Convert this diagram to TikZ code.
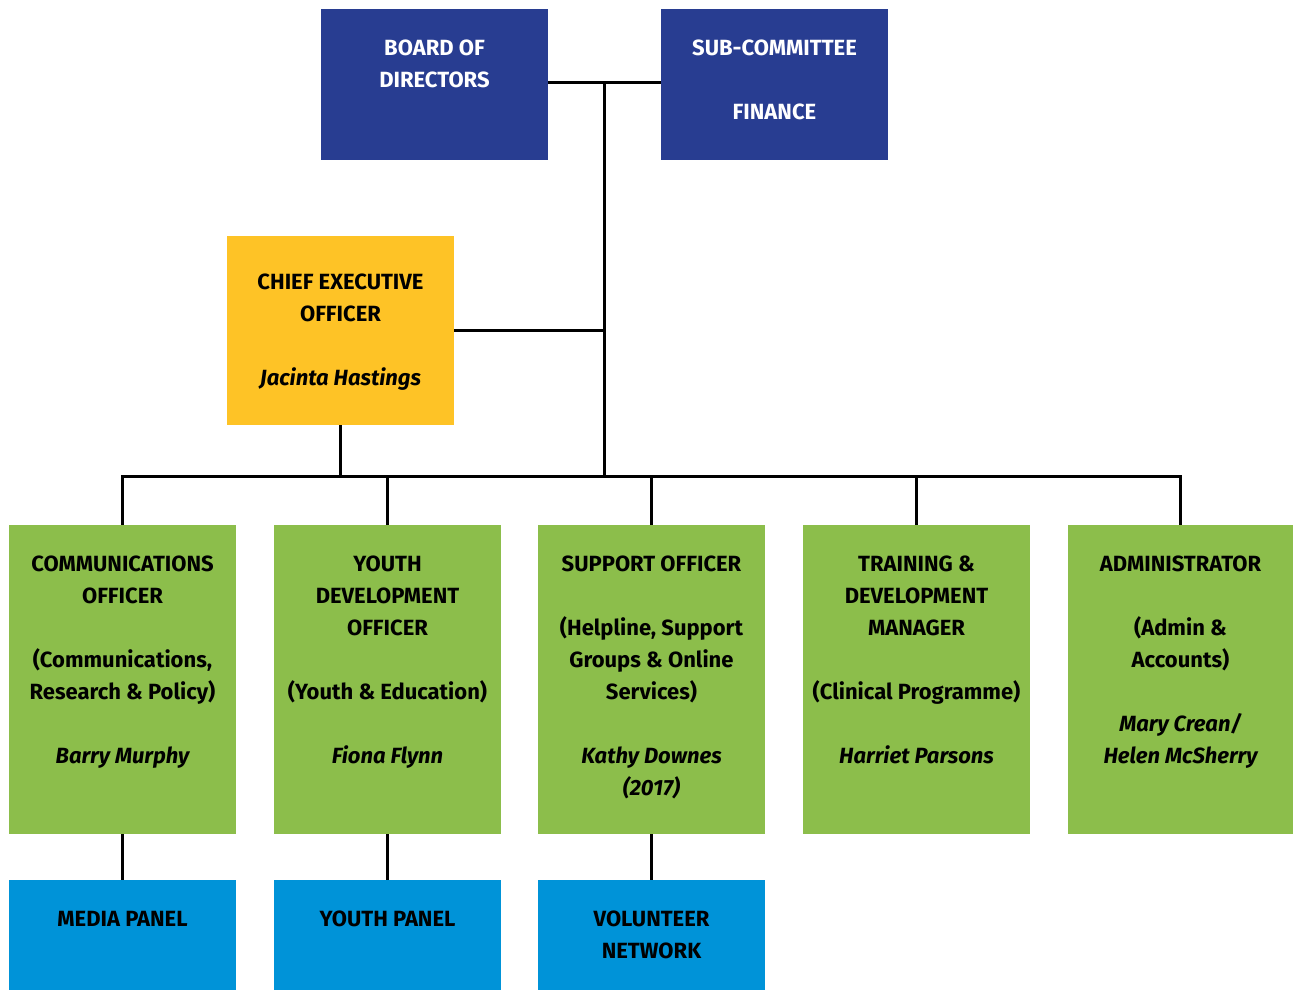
\documentclass[tikz,border=0pt]{standalone}
\usepackage{fontspec}
\setmainfont{Fira Sans}
\usepackage{xcolor}
\usepackage{tikz}
\usetikzlibrary{positioning}

\begin{document}
\begin{tikzpicture}[x=0.5pt,y=-0.5pt]
    \definecolor{mynavy}{RGB}{40,61,145}
    \definecolor{myyellow}{RGB}{254,195,38}
    \definecolor{mygreen}{RGB}{140,190,75}
    \definecolor{mycyan}{RGB}{0,147,216}

    \useasboundingbox (0,0) rectangle (1293,990);
    \tikzstyle{box}=[rectangle,inner sep=0pt,minimum width=113.5pt]  % 方框
    \tikzstyle{board}=[box,fill=mynavy,minimum height=75.5pt]
    \tikzstyle{ceo}=[box,fill=myyellow,minimum height=94.5pt]
    \tikzstyle{staff}=[box,fill=mygreen,minimum height=154.5pt]
    \tikzstyle{panel}=[box,fill=mycyan,minimum height=55pt]
    \tikzstyle{txt}=[inner sep=0pt,align=center,font=\fontsize{11}{16}\selectfont\bfseries]  % 文字
    \tikzstyle{point}=[coordinate]  % 连接点
    \tikzstyle{link}=[line width=1.5pt]

    % 方框
    \node[board](bod) at (434.5,84.5){};
    \node[board](sub) at (774.5,84.5){};
    \node[ceo](ceo) at (340.5,330.5){};
    \node[staff](comm) at (122.5,679.5){};
    \node[staff](youth) at (387.5,679.5){};
    \node[staff](supp) at (651.5,679.5){};
    \node[staff](train) at (916.5,679.5){};
    \node[staff,minimum width=112.5pt](admin) at (1180.5,679.5){};
    \node[panel](media) at (122.5,935){};
    \node[panel](ypanel) at (387.5,935){};
    \node[panel](vol) at (651.5,935){};

    % 文字
    \node[txt,text=white,below=15.5pt of bod.north](bodt){BOARD OF\\DIRECTORS};
    \node[txt,text=white,below=15.5pt of sub.north](subt){SUB-COMMITTEE\\[16pt]FINANCE};
    \node[txt,below=19pt of ceo.north](ceot){CHIEF EXECUTIVE\\OFFICER\\[16pt]\itshape Jacinta Hastings};
    \node[txt,below=15.5pt of comm.north](commt){COMMUNICATIONS\\OFFICER\\[16pt](Communications,\\Research \& Policy)\\[16pt]\itshape Barry Murphy};
    \node[txt,below=15.5pt of youth.north](youtht){YOUTH\\DEVELOPMENT\\OFFICER\\[16pt](Youth \& Education)\\[16pt]\itshape Fiona Flynn};
    \node[txt,below=15.5pt of supp.north](suppt){SUPPORT OFFICER\\[16pt](Helpline, Support\\Groups \& Online\\Services)\\[16pt]\itshape Kathy Downes\\\itshape (2017)};
    \node[txt,below=15.5pt of train.north](traint){TRAINING \&\\DEVELOPMENT\\MANAGER\\[16pt](Clinical Programme)\\[16pt]\itshape Harriet Parsons};
    \node[txt,below=15.5pt of admin.north](admint){ADMINISTRATOR\\[16pt](Admin \&\\Accounts)\\[16pt]\itshape Mary Crean/\\\itshape Helen McSherry};
    \node[txt,below=15.5pt of media.north](mediat){MEDIA PANEL};
    \node[txt,below=15.5pt of ypanel.north](ypanelt){YOUTH PANEL};
    \node[txt,below=15.5pt of vol.north](volt){VOLUNTEER\\NETWORK};

    % 连接点
    \node[point](top) at (604,83){};
    \node[point](hub) at (604,476){};

    % 开始画线
    \draw[link](bod.east |- top)--(sub.west |- top);
    \draw[link](top)--(hub);
    \draw[link](ceo.east)--(ceo.east -| top);
    \draw[link](ceo.south)--(ceo.south |- hub);
    \draw[link](comm.north)|-(hub)-|(admin.north);
    \draw[link](youth.north)--(youth.north |- hub);
    \draw[link](supp.north)--(supp.north |- hub);
    \draw[link](train.north)--(train.north |- hub);
    \draw[link](comm.south)--(media.north);
    \draw[link](youth.south)--(ypanel.north);
    \draw[link](supp.south)--(vol.north);
\end{tikzpicture}
\end{document}
